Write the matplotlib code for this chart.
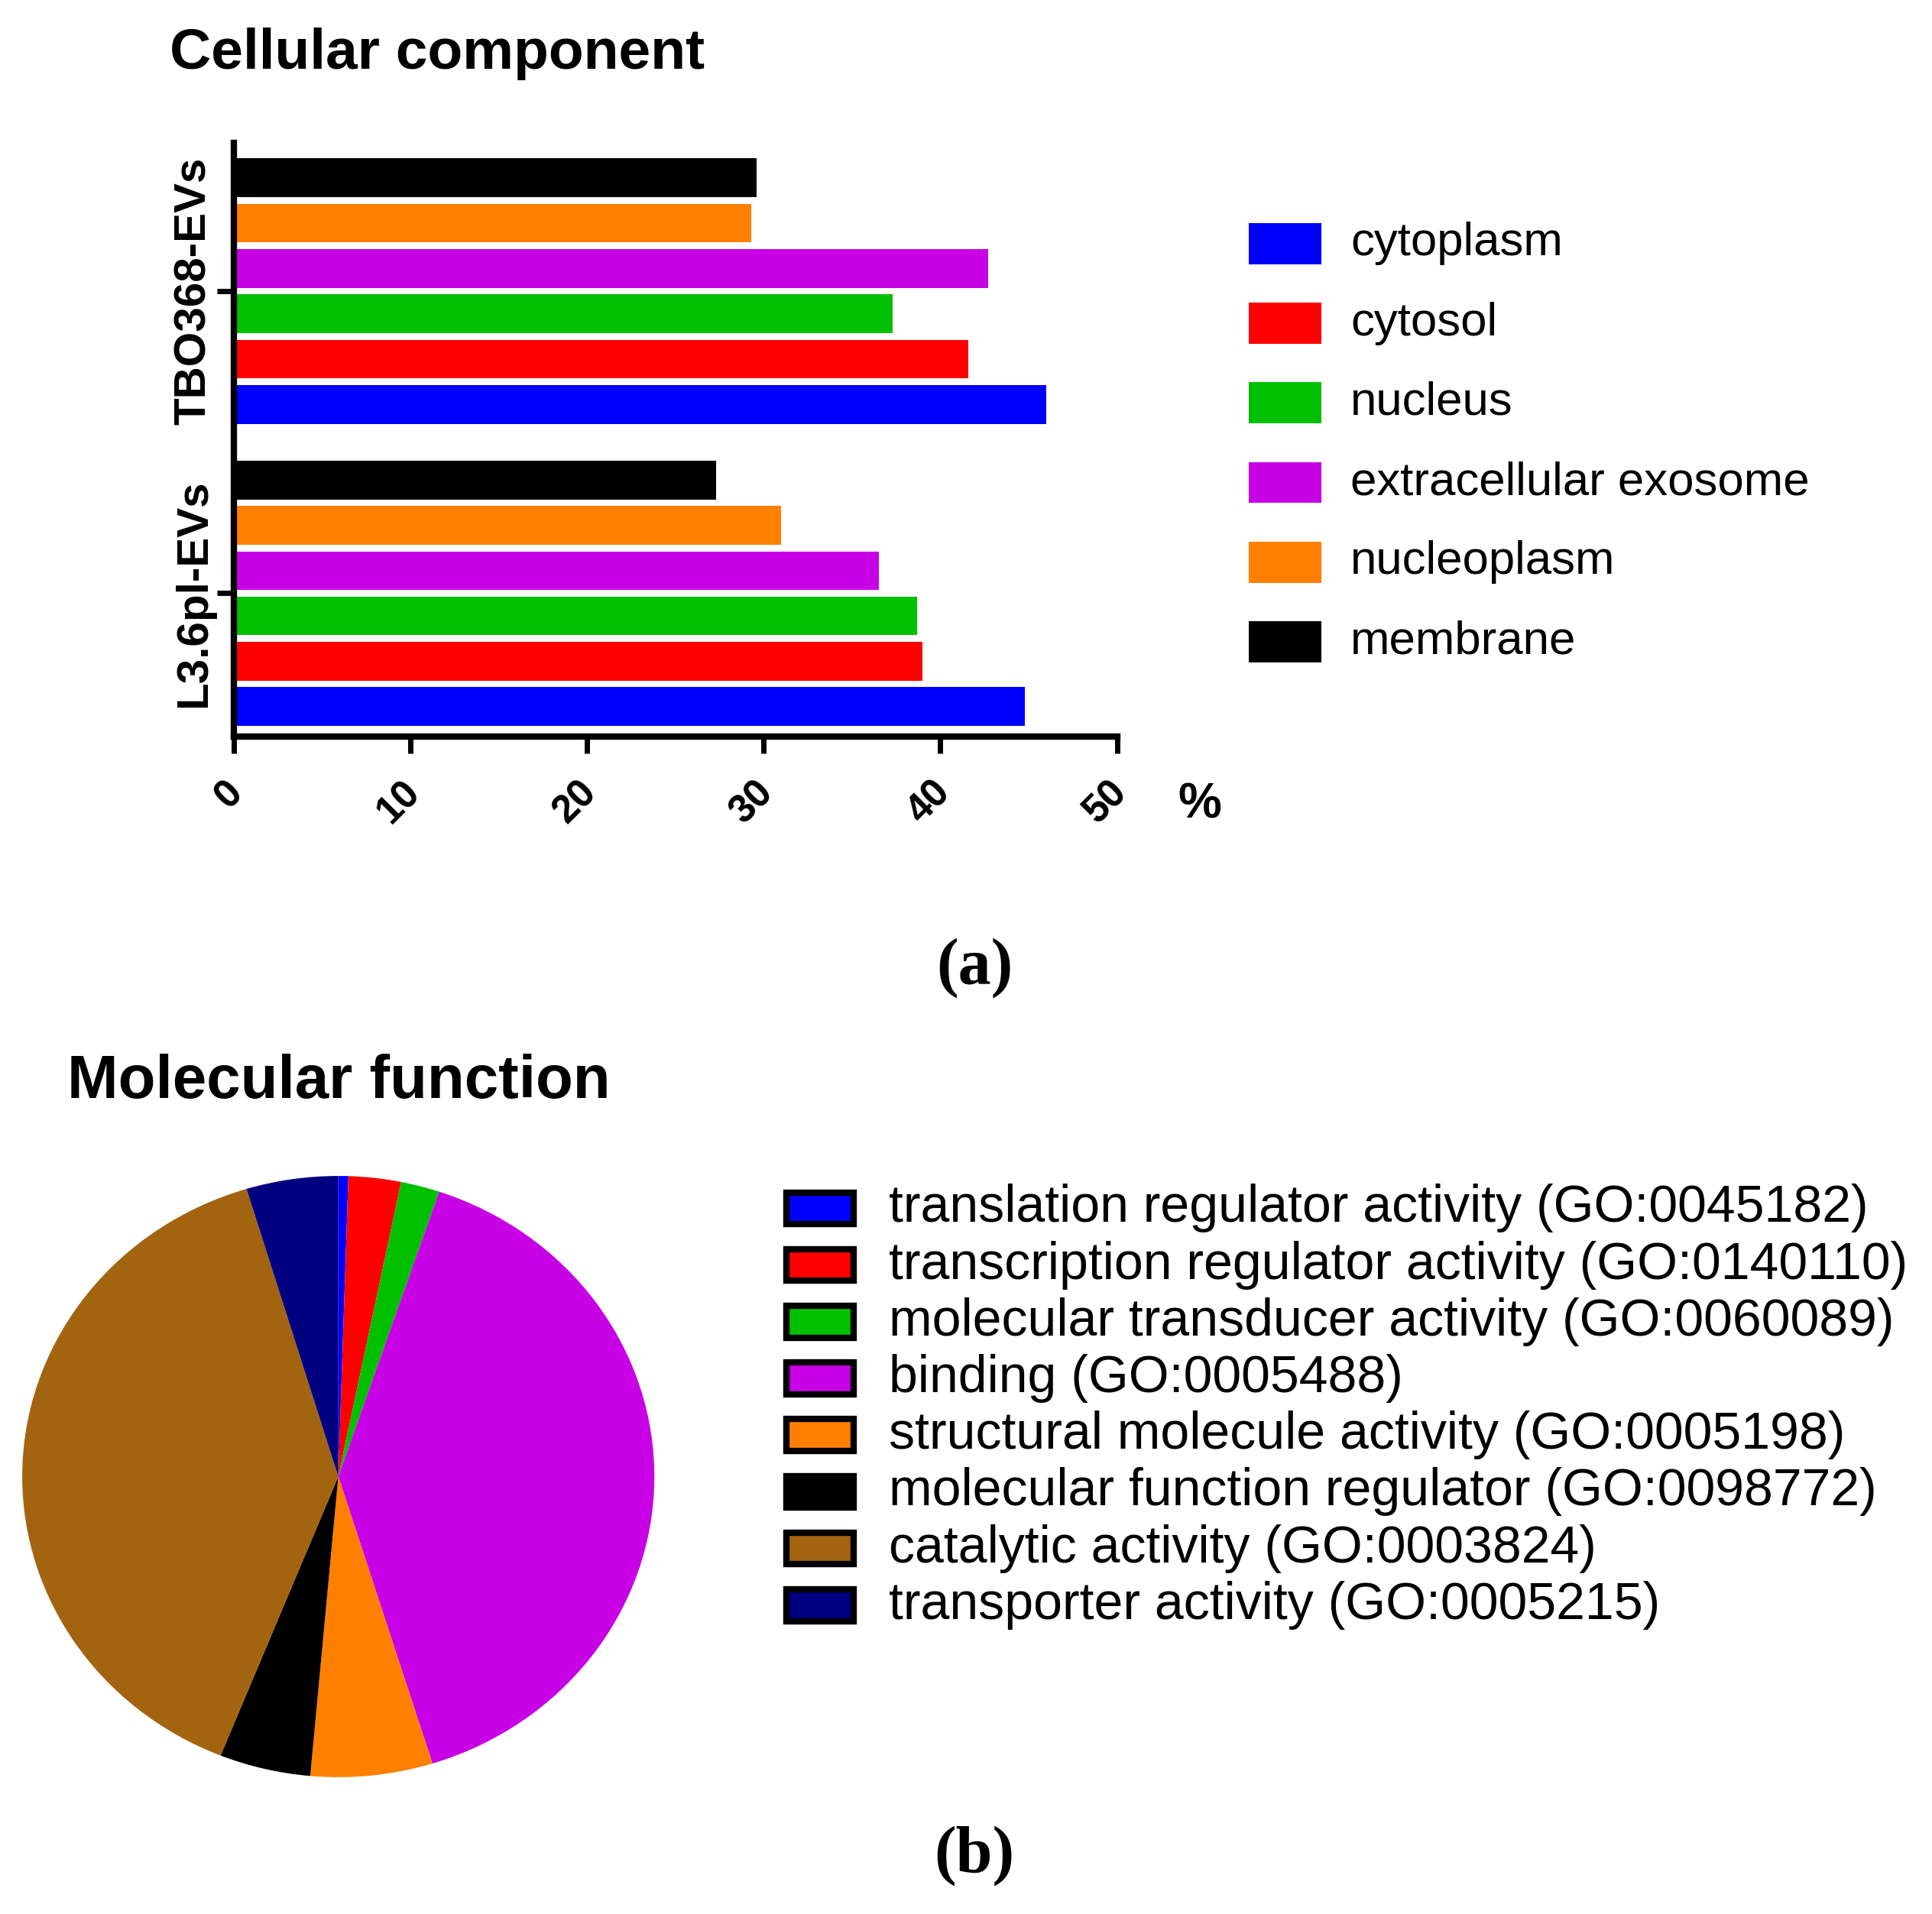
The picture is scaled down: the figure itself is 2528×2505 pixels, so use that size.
import numpy as np
import matplotlib
matplotlib.use("Agg")
import matplotlib.pyplot as plt
import matplotlib.transforms as mtransforms
from matplotlib.patches import Rectangle

plt.rcParams['font.family'] = ['Liberation Sans', 'DejaVu Sans']

# ---- data: cellular component (% of proteins) ----
groups = ['L3.6pl-EVs', 'TBO368-EVs']
cc_terms = ['cytoplasm', 'cytosol', 'nucleus', 'extracellular exosome',
            'nucleoplasm', 'membrane']
cc_l36pl = [44.8, 39.0, 38.7, 36.5, 31.0, 27.3]
cc_tbo368 = [46.0, 41.6, 37.3, 42.7, 29.3, 29.6]
cc_colors = ['#0000FF', '#FF0000', '#00C000', '#C800E6', '#FF8000', '#000000']
x_ticks = [0, 10, 20, 30, 40, 50]

# ---- data: molecular function (share of pie, %) ----
mf_terms = ['translation regulator activity (GO:0045182)',
            'transcription regulator activity (GO:0140110)',
            'molecular transducer activity (GO:0060089)',
            'binding (GO:0005488)',
            'structural molecule activity (GO:0005198)',
            'molecular function regulator (GO:0098772)',
            'catalytic activity (GO:0003824)',
            'transporter activity (GO:0005215)']
mf_values = [0.51, 2.68, 1.98, 40.02, 6.23, 4.66, 39.24, 4.69]
mf_colors = ['#0000FF', '#FF0000', '#00C000', '#C800E6', '#FF8000',
             '#000000', '#A3640F', '#000080']

fig = plt.figure(figsize=(25.28, 25.05), dpi=100)

#%% bar chart
ax = fig.add_axes([0.1209, 0.6152, 0.4573, 0.3101])
ypos = np.arange(len(groups))
pitch = 0.15
bh = 0.128
for i, term in enumerate(cc_terms):
    vals = [cc_l36pl[i], cc_tbo368[i]]
    ax.barh(ypos + (i - 2.5) * pitch, vals, height=bh, color=cc_colors[i],
            linewidth=0, zorder=2)

ax.set_xlim(0, 50)
ax.set_ylim(-0.474, 1.4905)
for s in ['top', 'right']:
    ax.spines[s].set_visible(False)
for s in ['left', 'bottom']:
    ax.spines[s].set_linewidth(6)
    ax.spines[s].set_capstyle('projecting')
    ax.spines[s].set_zorder(3)

ax.set_xticks(x_ticks)
ax.set_xticklabels([str(t) for t in x_ticks], rotation=45, ha='right', va='top',
                   fontsize=37, fontweight='bold')
ax.set_yticks(ypos)
ax.set_yticklabels(groups, rotation=90, va='center', ha='right',
                   fontsize=42, fontweight='bold')
ax.tick_params(axis='both', length=16, width=5, direction='out')
ax.tick_params(axis='x', pad=19)
ax.tick_params(axis='y', pad=2)
offset = mtransforms.ScaledTranslation(16 / 72, 0, fig.dpi_scale_trans)
for lab in ax.get_xticklabels():
    lab.set_transform(lab.get_transform() + offset)

fig.text(0.621, 0.5796, '%', fontsize=46, fontweight='bold',
         ha='center', va='center')
fig.text(0.0878, 0.9641, 'Cellular component', fontsize=54, fontweight='bold',
         ha='left', va='baseline')

# legend for the bars
lx, ly0, lstep = 0.6462, 0.8727, 0.0416
pw, ph = 0.0378, 0.02148
for i, term in enumerate(cc_terms):
    y = ly0 - i * lstep
    fig.add_artist(Rectangle((lx, y - ph / 2), pw, ph, transform=fig.transFigure,
                             facecolor=cc_colors[i], edgecolor='none'))
    fig.text(0.699, y, term, fontsize=44.5, ha='left', va='center')

fig.text(0.5044, 0.4862, '(a)', fontsize=62, fontweight='bold',
         family=['Liberation Serif', 'DejaVu Serif'], ha='center', va='baseline')

#%% pie chart
ax2 = fig.add_axes([0.0115, 0.0715, 0.3272, 0.3141])
ax2.pie(mf_values, colors=mf_colors, startangle=90, counterclock=False,
        wedgeprops=dict(linewidth=0))
ax2.set_aspect('auto')
ax2.set_xlim(-1, 1)
ax2.set_ylim(-1, 1)
ax2.axis('off')

fig.text(0.0349, 0.4265, 'Molecular function', fontsize=57.5, fontweight='bold',
         ha='left', va='baseline')

px, py0, pstep = 0.4070, 0.3687, 0.02962
pw2, ph2 = 0.0348, 0.0166
for i, term in enumerate(mf_terms):
    y = py0 - i * pstep
    fig.add_artist(Rectangle((px, y - ph2 / 2), pw2, ph2, transform=fig.transFigure,
                             facecolor=mf_colors[i], edgecolor='black', linewidth=6))
    fig.text(0.4601, y, term, fontsize=49, ha='left', va='center')

fig.text(0.5042, 0.0223, '(b)', fontsize=62, fontweight='bold',
         family=['Liberation Serif', 'DejaVu Serif'], ha='center', va='baseline')

fig.savefig('out.png', dpi=100, facecolor='white')
